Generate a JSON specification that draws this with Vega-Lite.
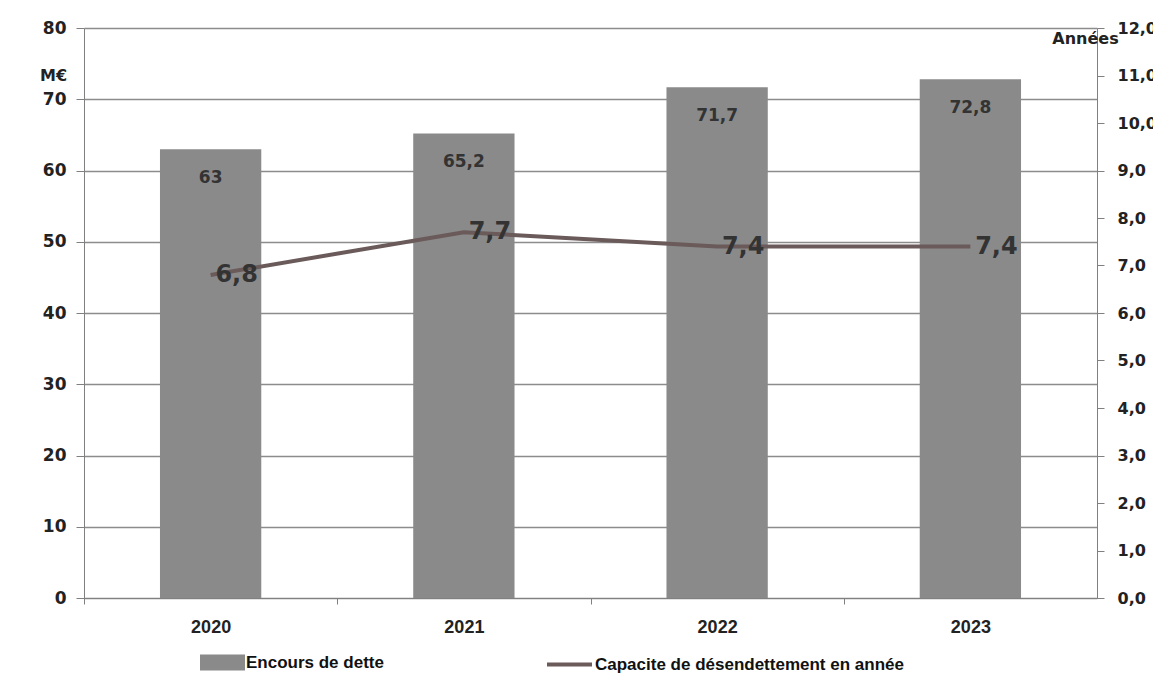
{
  "$schema": "https://vega.github.io/schema/vega-lite/v6.json",
  "width": 1013,
  "height": 570,
  "autosize": {"type": "none"},
  "padding": {"left": 84, "top": 28, "right": 56, "bottom": 91},
  "background": "white",
  "config": {
    "locale": {"number": {"decimal": ",", "thousands": " ", "grouping": [3], "currency": ["", " €"]}},
    "view": {"stroke": null},
    "font": "DejaVu Sans",
    "legend": {"padding": 0}
  },
  "data": {
    "values": [
      {"annee": "2020", "encours": 63, "capacite": 6.8},
      {"annee": "2021", "encours": 65.2, "capacite": 7.7},
      {"annee": "2022", "encours": 71.7, "capacite": 7.4},
      {"annee": "2023", "encours": 72.8, "capacite": 7.4}
    ]
  },
  "encoding": {
    "x": {
      "field": "annee",
      "type": "ordinal",
      "scale": {"paddingInner": 0.6, "paddingOuter": 0.3},
      "axis": {
        "title": null,
        "labelAngle": 0,
        "labelFont": "Liberation Sans",
        "labelFontWeight": "bold",
        "labelFontSize": 18,
        "labelColor": "#222222",
        "labelPadding": 14,
        "tickSize": 6,
        "tickColor": "#808080",
        "tickOffset": -126.6,
        "labelOffset": 126.6,
        "domainColor": "#808080",
        "grid": false
      }
    }
  },
  "layer": [
    {
      "layer": [
        {
          "mark": {"type": "bar"},
          "encoding": {
            "y": {
              "field": "encours",
              "type": "quantitative",
              "scale": {"domain": [0, 80]},
              "axis": {
                "orient": "left",
                "values": [0, 10, 20, 30, 40, 50, 60, 70, 80],
                "format": "d",
                "title": "M€",
                "titleAngle": 0,
                "titleX": -31,
                "titleY": 47,
                "titleAlign": "center",
                "titleBaseline": "middle",
                "titleFont": "DejaVu Sans",
                "titleFontSize": 16,
                "titleFontWeight": "bold",
                "titleColor": "#222222",
                "labelFont": "DejaVu Sans",
                "labelFontWeight": "bold",
                "labelFontSize": 17,
                "labelColor": "#222222",
                "labelPadding": 10,
                "tickSize": 8,
                "tickColor": "#808080",
                "domainColor": "#808080",
                "grid": true,
                "gridColor": "#8c8c8c",
                "gridWidth": 1.5
              }
            },
            "fill": {
              "datum": "Encours de dette",
              "type": "nominal",
              "scale": {"range": ["#8a8a8a"]},
              "legend": {
                "title": null,
                "orient": "none",
                "legendX": 116,
                "legendY": 612,
                "symbolType": "M-1,-0.36H1V0.36H-1Z",
                "symbolSize": 2025,
                "symbolStrokeWidth": 0,
                "labelFont": "Liberation Sans",
                "labelFontWeight": "bold",
                "labelFontSize": 17,
                "labelColor": "#111111",
                "labelOffset": 1,
                "labelLimit": 400
              }
            }
          }
        },
        {
          "mark": {"type": "text", "baseline": "middle", "dy": 29, "font": "DejaVu Sans", "fontWeight": "bold", "fontSize": 17, "color": "#333333"},
          "encoding": {
            "y": {"field": "encours", "type": "quantitative"},
            "text": {"field": "encours", "type": "quantitative", "format": "~f"}
          }
        }
      ]
    },
    {
      "layer": [
        {
          "mark": {"type": "line", "strokeWidth": 4},
          "encoding": {
            "y": {
              "field": "capacite",
              "type": "quantitative",
              "scale": {"domain": [0, 12]},
              "axis": {
                "orient": "right",
                "values": [0, 1, 2, 3, 4, 5, 6, 7, 8, 9, 10, 11, 12],
                "format": ".1f",
                "title": "Années",
                "titleAngle": 0,
                "titleX": -12,
                "titleY": 10,
                "titleAlign": "center",
                "titleBaseline": "middle",
                "titleFont": "DejaVu Sans",
                "titleFontSize": 16,
                "titleFontWeight": "bold",
                "titleColor": "#222222",
                "labelFont": "DejaVu Sans",
                "labelFontWeight": "bold",
                "labelFontSize": 16,
                "labelColor": "#222222",
                "labelPadding": 13,
                "tickSize": 7,
                "tickColor": "#808080",
                "domainColor": "#808080",
                "grid": false
              }
            },
            "stroke": {
              "datum": "Capacite de désendettement en année",
              "type": "nominal",
              "scale": {"range": ["#6b5a5a"]},
              "legend": {
                "title": null,
                "orient": "none",
                "legendX": 461,
                "legendY": 612,
                "symbolType": "stroke",
                "symbolSize": 2025,
                "symbolStrokeWidth": 4,
                "labelFont": "Liberation Sans",
                "labelFontWeight": "bold",
                "labelFontSize": 17,
                "labelColor": "#111111",
                "labelOffset": 1,
                "labelLimit": 600
              }
            }
          }
        },
        {
          "mark": {"type": "text", "baseline": "middle", "align": "center", "dx": 26, "font": "DejaVu Sans", "fontWeight": "bold", "fontSize": 24, "color": "#333333"},
          "encoding": {
            "y": {"field": "capacite", "type": "quantitative"},
            "text": {"field": "capacite", "type": "quantitative", "format": ".1f"}
          }
        }
      ]
    }
  ],
  "resolve": {"scale": {"y": "independent", "fill": "independent", "stroke": "independent"}}
}
